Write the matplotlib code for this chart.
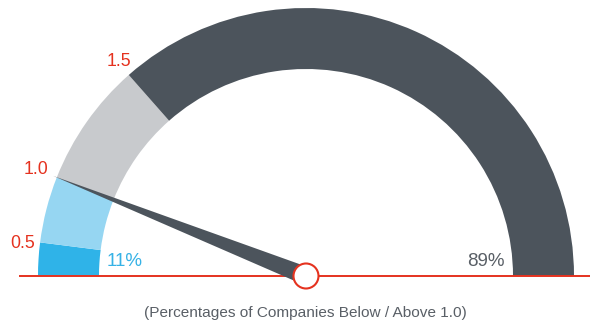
import numpy as np
import matplotlib
matplotlib.use('Agg')
import matplotlib.pyplot as plt
from matplotlib.patches import Wedge, Polygon, Circle

plt.rcParams['font.family'] = ['Liberation Sans', 'DejaVu Sans']

# share of companies (percent) in each band, left to right on the gauge
bands = ['<0.5', '0.5-1.0', '1.0-1.5', '>1.5']
shares = [4, 8, 15, 73]
band_colors = ['#2fb3e8', '#96d6f2', '#c8cacd', '#4c545c']
tick_labels = ['0.5', '1.0', '1.5']
below_pct = 11
above_pct = 89
needle_value = 12  # percent position of the needle along the arc

RED = '#e5321f'
DARK = '#4c545c'

fig = plt.figure(figsize=(5.9, 3.25), dpi=100)
ax = fig.add_axes([0, 0, 1, 1])
ax.set_xlim(0, 590)
ax.set_ylim(0, 325)
ax.set_aspect('equal')
ax.axis('off')

cx, cy = 306, 49
r_out, r_in = 268, 207

def pct_to_angle(p):
    return 180 - p * 180 / 100

# gauge bands
cum = np.concatenate([[0], np.cumsum(shares)])
for i in range(len(shares)):
    a1 = pct_to_angle(cum[i + 1])
    a2 = pct_to_angle(cum[i])
    ax.add_patch(Wedge((cx, cy), r_out, a1, a2, width=r_out - r_in,
                       facecolor=band_colors[i], edgecolor='none', zorder=1))

# baseline
ax.plot([20, 590], [cy, cy], color=RED, lw=1.4, zorder=2)

# boundary labels
label_pos = [(35, 82), (48, 155), (131, 263)]
for lab, (x, y) in zip(tick_labels, label_pos):
    ax.text(x, y, lab, color=RED, fontsize=12.8, ha='right', va='center')

# needle
ang = np.radians(pct_to_angle(needle_value))
d = np.array([np.cos(ang), np.sin(ang)])
perp = np.array([-d[1], d[0]])
hw = 9
tip = np.array([cx, cy]) + d * 272
base1 = np.array([cx, cy]) + perp * hw
base2 = np.array([cx, cy]) - perp * hw
ax.add_patch(Polygon([tip, base1, base2], closed=True, facecolor=DARK,
                     edgecolor='none', zorder=3))

# hub
ax.add_patch(Circle((cx, cy), 12.5, facecolor='white', edgecolor=RED,
                    lw=1.5, zorder=4))

# percentages
ax.text(107, 64, f'{below_pct}%', color='#36b2e6', fontsize=13.5,
        ha='left', va='center')
ax.text(505, 64, f'{above_pct}%', color='#595f66', fontsize=13.5,
        ha='right', va='center')

ax.text(305, 12, '(Percentages of Companies Below / Above 1.0)',
        color='#595f66', fontsize=11.1, ha='center', va='center')

fig.savefig('out.png', dpi=100)
